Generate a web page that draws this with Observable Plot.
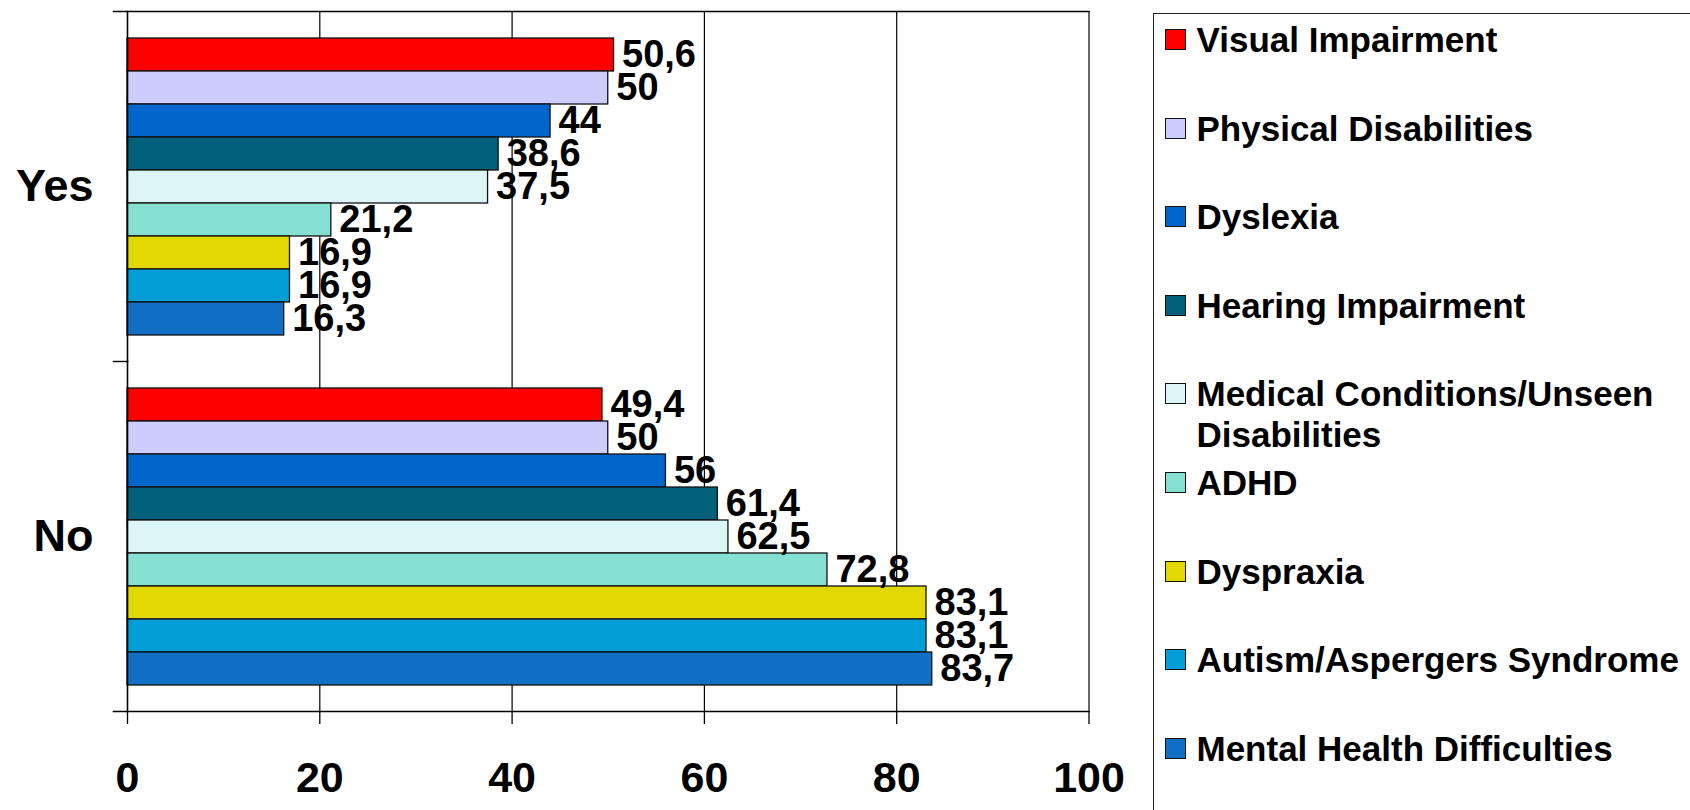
<!DOCTYPE html>
<html>
<head>
<meta charset="utf-8">
<script src="https://cdn.jsdelivr.net/npm/d3@7"></script>
<script src="https://cdn.jsdelivr.net/npm/@observablehq/plot@0.6"></script>
<style>
  html, body { margin: 0; padding: 0; background: #ffffff; overflow: hidden; }
  #wrap { position: relative; width: 1690px; height: 810px; }
  #chart { position: absolute; left: 0; top: 0; }
  #legend {
    position: absolute; left: 1153px; top: 13px; width: 620px; height: 900px;
    border: 1.5px solid #222; box-sizing: border-box; padding-top: 5px; background: #fff;
    font-family: 'Liberation Sans', Arial, sans-serif; font-weight: bold; color: #000;
  }
  .item { display: flex; align-items: flex-start; height: 88.6px; }
  .sw { width: 21px; height: 21px; border: 1.5px solid #111; box-sizing: border-box; margin-left: 10.5px; margin-top: 10px; flex: none; }
  .lab { margin-left: 11px; font-size: 35px; line-height: 41px; width: 520px; }
</style>
</head>
<body>
<div id="wrap">
  <div id="chart"></div>
  <div id="legend"></div>
</div>
<script>
const categories = [
  "Visual Impairment",
  "Physical Disabilities",
  "Dyslexia",
  "Hearing Impairment",
  "Medical Conditions/Unseen Disabilities",
  "ADHD",
  "Dyspraxia",
  "Autism/Aspergers Syndrome",
  "Mental Health Difficulties"
];
const colors = ["#ff0000", "#ccccff", "#0066cc", "#03607a", "#dcf5f8", "#86e0d2", "#e0d800", "#039ed8", "#1170c6"];
const answers = ["Yes", "No"];
const yesValues = [50.6, 50, 44, 38.6, 37.5, 21.2, 16.9, 16.9, 16.3];
const noValues = [49.4, 50, 56, 61.4, 62.5, 72.8, 83.1, 83.1, 83.7];
const xTicks = [0, 20, 40, 60, 80, 100];
const gridTicks = [20, 40, 60, 80, 100];

const seriesByAnswer = {Yes: yesValues, No: noValues};
const data = answers.flatMap(a => categories.map((c, i) => ({answer: a, category: c, value: seriesByAnswer[a][i]})));
const fmt = v => String(v).replace(".", ",");

const W = 1150, mL = 127, mR = 61.5;

const chart = Plot.plot({
  width: W,
  height: 810,
  marginLeft: mL,
  marginRight: mR,
  marginTop: 11,
  marginBottom: 99,
  style: {fontFamily: "'Liberation Sans', Arial, sans-serif", background: "transparent", color: "#000", overflow: "visible"},
  x: {domain: [0, 100]},
  y: {domain: categories, paddingInner: 0, paddingOuter: 0.75, axis: null},
  fy: {domain: answers, padding: 0, label: null},
  color: {domain: categories, range: colors},
  marks: [
    Plot.ruleX(gridTicks, {stroke: "#000", strokeWidth: 1.2}),
    Plot.barX(data, {x: "value", y: "category", fy: "answer", fill: "category", stroke: "#111", strokeWidth: 1.3}),
    Plot.text(data, {x: "value", y: "category", fy: "answer", text: d => fmt(d.value), textAnchor: "start", dx: 8, fontSize: 38, fontWeight: "bold", fill: "#000"}),
    Plot.frame({anchor: "left", stroke: "#000", strokeWidth: 1.6}),
    Plot.frame({anchor: "top", fy: ["Yes"], insetLeft: -14, stroke: "#000", strokeWidth: 1.4}),
    Plot.frame({anchor: "top", fy: ["No"], insetLeft: -14, insetRight: W - mL - mR, stroke: "#000", strokeWidth: 1.4}),
    Plot.frame({anchor: "bottom", fy: ["No"], insetLeft: -14, stroke: "#000", strokeWidth: 1.6}),
    Plot.axisX({ticks: xTicks, tickSize: 13, tickPadding: 37, fontSize: 43, fontWeight: "bold", label: null, tickFormat: d => String(d), strokeWidth: 1.3}),
    Plot.axisFy({anchor: "left", tickSize: 0, tickPadding: 34, fontSize: 45, fontWeight: "bold", label: null})
  ]
});
document.getElementById("chart").appendChild(chart);

const legend = d3.select("#legend");
const items = legend.selectAll("div.item").data(categories).join("div").attr("class", "item");
items.append("div").attr("class", "sw").style("background", (d, i) => colors[i]);
items.append("div").attr("class", "lab").text(d => d);
</script>
</body>
</html>
